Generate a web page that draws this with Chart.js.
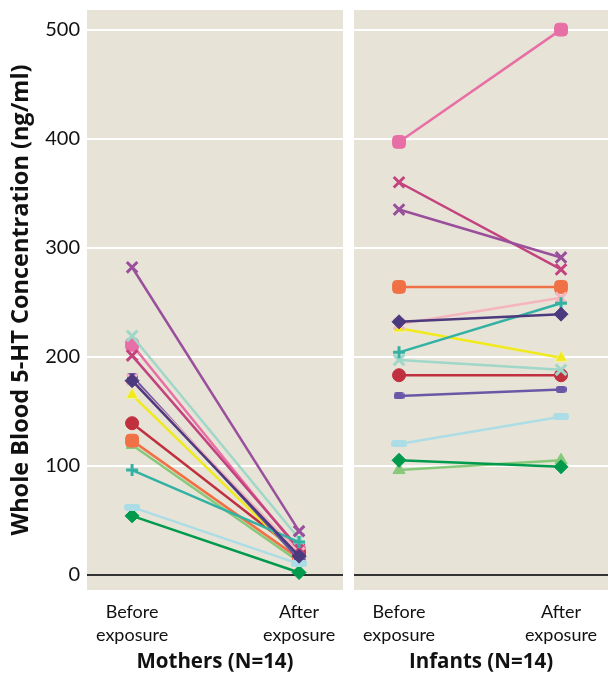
<!DOCTYPE html>
<html>
<head>
<meta charset="utf-8">
<script src="https://cdn.jsdelivr.net/npm/chart.js@4.4.0/dist/chart.umd.min.js"></script>
<style>
  body { margin: 0; background: #fff; }
  #wrap { position: relative; width: 608px; height: 675px; }
  #c1 { position: absolute; left: 0; top: 0; }
  #c2 { position: absolute; left: 354px; top: 0; }
</style>
</head>
<body>
<div id="wrap">
  <canvas id="c1" width="343" height="675"></canvas>
  <canvas id="c2" width="254" height="675"></canvas>
</div>
<script>
// Data (ng/ml), one entry per subject
const subjects = ["s1","s2","s3","s4","s5","s6","s7","s8","s9","s10","s11","s12","s13","s14"];
const mothersBefore = [282, 219, 211, 201, 179, 178, 182, 165, 139, 123, 119, 96, 62, 54];
const mothersAfter  = [40, 33, 22, 24, 20, 17, 14, 16, 20, 15, 12, 30, 10, 2];
const infantsBefore = [335, 197, 397, 360, 230, 232, 164, 226, 183, 264, 96, 204, 120, 105];
const infantsAfter  = [291, 188, 500, 280, 254, 239, 170, 199, 183, 264, 105, 249, 145, 99];
const xLabels = [["Before", "exposure"], ["After", "exposure"]];
const yTicks = [0, 100, 200, 300, 400, 500];

// Styles per subject
const colors = ["#9a4f9c", "#9fd7c9", "#e86fa5", "#c3437f", "#f5b5bf", "#4b3a7d", "#6a58a6",
                "#f0ea1c", "#c0303e", "#ef7145", "#86c97b", "#33b2a3", "#acdde6", "#009a4d"];
const markers = ["crossRot", "crossRot", "rectRounded", "crossRot", "crossRot", "rectRot", "smallRect",
                 "triangle", "circle", "rectRounded", "triangle", "cross", "wideRect", "rectRot"];
// 0 = drawn on top
const drawOrder = [0, 1, 2, 1, 1, 0, 1, 1, 1, 1, 1, 0, 0, 0];

const BG = "#e7e4d7";
const FONT = "Lato, 'Open Sans', sans-serif";
const BOLD_FONT = "'Open Sans', Lato, sans-serif";

// Rounded rectangle marker drawn on a small canvas
function roundRectMarker(w, h, color) {
  const c = document.createElement("canvas");
  c.width = w; c.height = h;
  const g = c.getContext("2d");
  g.fillStyle = color;
  g.beginPath();
  g.roundRect(0, 0, w, h, 3);
  g.fill();
  return c;
}

function pointOpts(i) {
  const m = markers[i];
  if (m === "smallRect") return { pointStyle: roundRectMarker(11, 7, colors[i]), radius: 6 };
  if (m === "wideRect") return { pointStyle: roundRectMarker(16, 7, colors[i]), radius: 8 };
  if (m === "crossRot") return { pointStyle: m, radius: 7.5, borderWidth: 3 };
  if (m === "cross") return { pointStyle: m, radius: 6, borderWidth: 3 };
  if (m === "rectRounded") return { pointStyle: m, radius: 7.5, borderWidth: 1 };
  if (m === "rectRot") return { pointStyle: m, radius: 7, borderWidth: 1 };
  if (m === "triangle") return { pointStyle: m, radius: 7, borderWidth: 1 };
  return { pointStyle: m, radius: 6.5, borderWidth: 1 };
}

function buildDatasets(before, after) {
  return subjects.map((s, i) => {
    const p = pointOpts(i);
    return {
      label: s,
      order: drawOrder[i],
      data: [{ x: 0, y: before[i] }, { x: 1, y: after[i] }],
      borderColor: colors[i],
      backgroundColor: colors[i],
      borderWidth: 2.5,
      pointStyle: p.pointStyle,
      pointRadius: p.radius,
      pointBorderWidth: p.borderWidth || 0,
      pointBackgroundColor: colors[i],
      pointBorderColor: i === 7 ? "#f6f29a" : colors[i]
    };
  });
}

const bgPlugin = {
  id: "panelBg",
  beforeDraw(chart) {
    const a = chart.chartArea;
    const ctx = chart.ctx;
    ctx.save();
    ctx.fillStyle = BG;
    ctx.fillRect(a.left, a.top, a.right - a.left, a.bottom - a.top);
    ctx.restore();
  }
};

function makeChart(id, before, after, title, xMin, xMax, showY) {
  return new Chart(document.getElementById(id), {
    type: "line",
    data: { datasets: buildDatasets(before, after) },
    plugins: [bgPlugin],
    options: {
      responsive: false,
      animation: false,
      layout: { autoPadding: false, padding: { top: 10, left: 0, right: 0, bottom: 0 } },
      plugins: { legend: { display: false }, tooltip: { enabled: false } },
      scales: {
        x: {
          type: "linear",
          min: xMin,
          max: xMax,
          afterBuildTicks: (scale) => { scale.ticks = [{ value: 0 }, { value: 1 }]; },
          afterFit: (scale) => {
            scale.height = 85;
            scale.paddingLeft = 0;
            scale.paddingRight = 0;
          },
          grid: { display: false },
          border: { display: false },
          ticks: {
            padding: 2,
            color: "#111",
            font: { family: FONT, size: 18, lineHeight: 1.3 },
            callback: (v) => xLabels[v]
          },
          title: {
            display: true,
            text: title,
            color: "#111",
            font: { family: BOLD_FONT, size: 20.5, weight: "bold" },
            padding: { top: 0, bottom: 1 }
          }
        },
        y: {
          min: -14,
          max: 518,
          afterBuildTicks: (scale) => { scale.ticks = yTicks.map(v => ({ value: v })); },
          afterFit: (scale) => {
            scale.width = showY ? 87 : 0;
            scale.paddingTop = 0;
            scale.paddingBottom = 0;
          },
          grid: {
            drawTicks: false,
            color: (c) => (c.tick && c.tick.value === 0 ? "#333" : "#fff"),
            lineWidth: 2
          },
          border: { display: false },
          ticks: {
            display: showY,
            padding: 7,
            color: "#111",
            font: { family: FONT, size: 20 }
          },
          title: {
            display: showY,
            text: "Whole Blood 5-HT Concentration (ng/ml)",
            color: "#111",
            font: { family: BOLD_FONT, size: 23.5, weight: "bold" },
            padding: { top: 7, bottom: 0 }
          }
        }
      }
    }
  });
}

makeChart("c1", mothersBefore, mothersAfter, "Mothers (N=14)", -0.27, 1.263, true);
// second panel: same y scale, no tick labels
makeChart("c2", infantsBefore, infantsAfter, "Infants (N=14)", -0.278, 1.29, false);
</script>
</body>
</html>
